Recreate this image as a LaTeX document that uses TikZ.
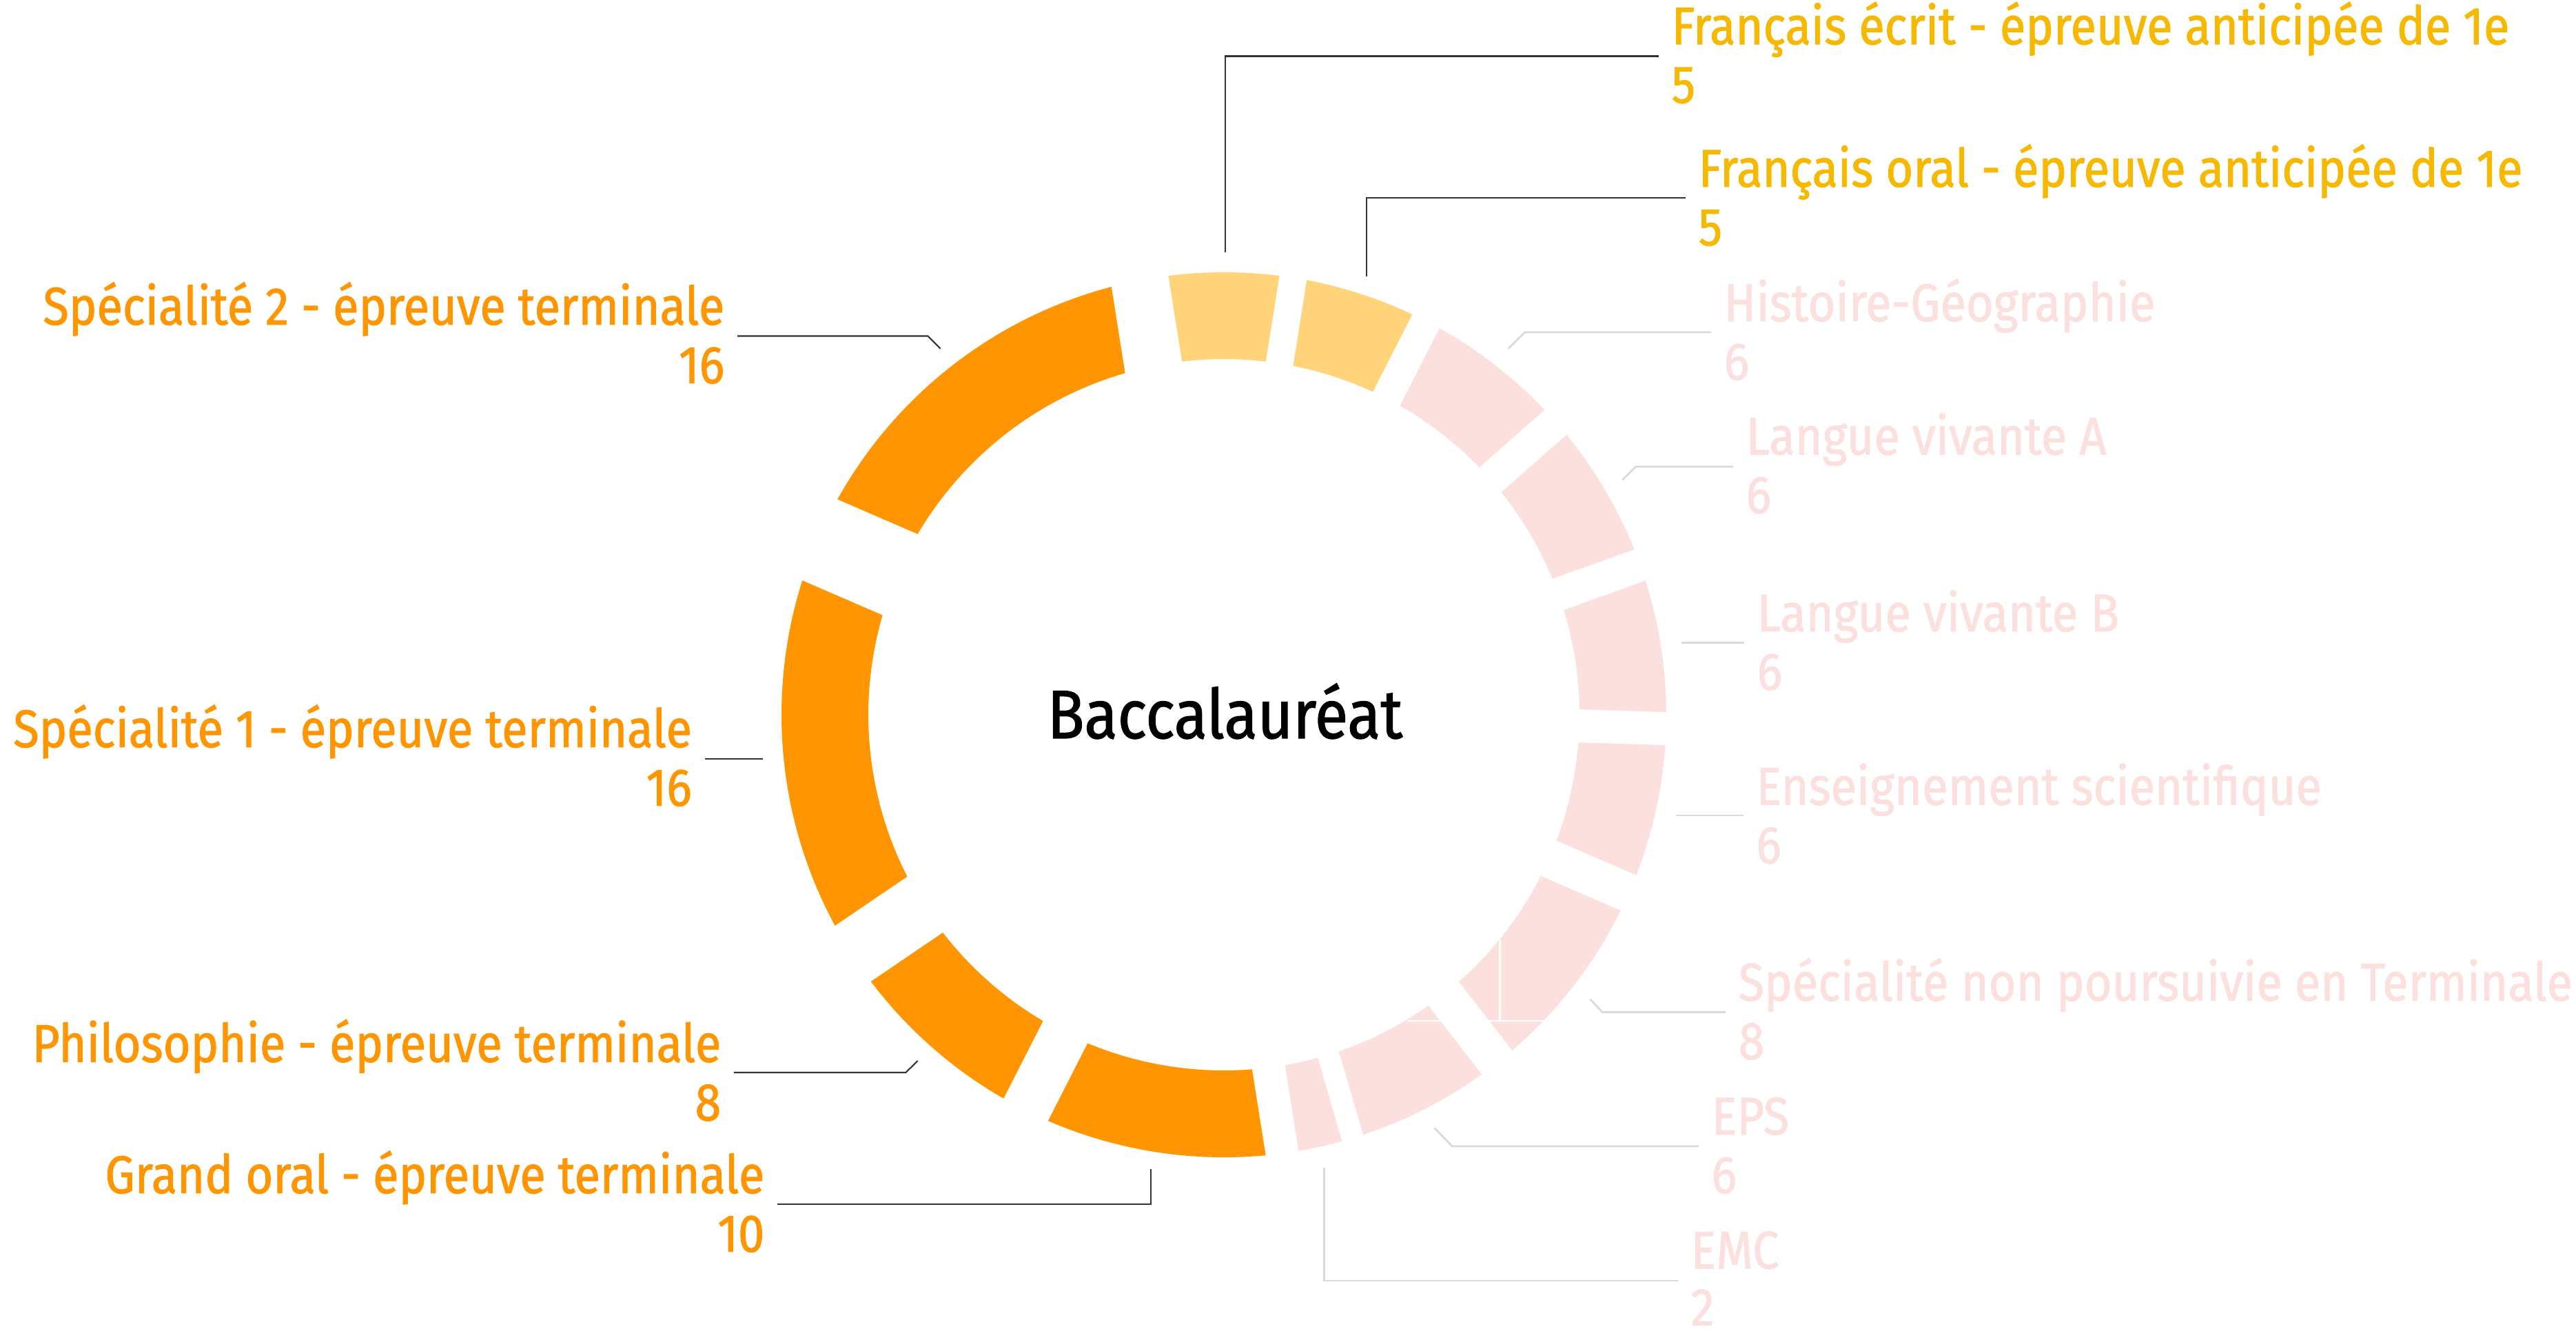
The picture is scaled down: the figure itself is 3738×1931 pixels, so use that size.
\documentclass[tikz,border=0pt]{standalone}
\usepackage{fontspec}
\setmainfont{Fira Sans}[FakeStretch=0.89, UprightFeatures={FakeBold=1.2}]
\definecolor{segorange}{HTML}{FF9500}
\definecolor{seggold}{HTML}{FFD47A}
\definecolor{segpink}{HTML}{FBE0DD}
\definecolor{txtorange}{HTML}{FF9500}
\definecolor{txtgold}{HTML}{F6B800}
\definecolor{txtpink}{HTML}{FBE0DD}
\definecolor{leadgray}{HTML}{333333}
\definecolor{leadpale}{HTML}{DADADA}
\tikzset{
  lbl/.style={font=\fontsize{21.9}{24}\selectfont, inner xsep=0.18cm, inner ysep=0pt},
  leaddark/.style={draw=leadgray, line width=0.6pt},
  leadlight/.style={draw=leadpale, line width=0.8pt},
  gap/.style={fill=white},
}
\begin{document}
\begin{tikzpicture}[x=0.01cm,y=0.01cm]
    \useasboundingbox (-1776,-894) rectangle (1962,1037);
    % ring sectors
    \fill[seggold] (81:642) arc[start angle=81, end angle=99, radius=642] -- (99:516) arc[start angle=99, end angle=81, radius=516] -- cycle;
    \fill[seggold] (63:642) arc[start angle=63, end angle=81, radius=642] -- (81:516) arc[start angle=81, end angle=63, radius=516] -- cycle;
    \fill[segpink] (41.4:642) arc[start angle=41.4, end angle=63, radius=642] -- (63:516) arc[start angle=63, end angle=41.4, radius=516] -- cycle;
    \fill[segpink] (19.8:642) arc[start angle=19.8, end angle=41.4, radius=642] -- (41.4:516) arc[start angle=41.4, end angle=19.8, radius=516] -- cycle;
    \fill[segpink] (-1.8:642) arc[start angle=-1.8, end angle=19.8, radius=642] -- (19.8:516) arc[start angle=19.8, end angle=-1.8, radius=516] -- cycle;
    \fill[segpink] (-23.4:642) arc[start angle=-23.4, end angle=-1.8, radius=642] -- (-1.8:516) arc[start angle=-1.8, end angle=-23.4, radius=516] -- cycle;
    \fill[segpink] (-52.2:642) arc[start angle=-52.2, end angle=-23.4, radius=642] -- (-23.4:516) arc[start angle=-23.4, end angle=-52.2, radius=516] -- cycle;
    \fill[segpink] (-73.8:642) arc[start angle=-73.8, end angle=-52.2, radius=642] -- (-52.2:516) arc[start angle=-52.2, end angle=-73.8, radius=516] -- cycle;
    \fill[segpink] (-81:642) arc[start angle=-81, end angle=-73.8, radius=642] -- (-73.8:516) arc[start angle=-73.8, end angle=-81, radius=516] -- cycle;
    \fill[segorange] (-117:642) arc[start angle=-117, end angle=-81, radius=642] -- (-81:516) arc[start angle=-81, end angle=-117, radius=516] -- cycle;
    \fill[segorange] (-145.8:642) arc[start angle=-145.8, end angle=-117, radius=642] -- (-117:516) arc[start angle=-117, end angle=-145.8, radius=516] -- cycle;
    \fill[segorange] (-203.4:642) arc[start angle=-203.4, end angle=-145.8, radius=642] -- (-145.8:516) arc[start angle=-145.8, end angle=-203.4, radius=516] -- cycle;
    \fill[segorange] (99:642) arc[start angle=99, end angle=156.6, radius=642] -- (156.6:516) arc[start angle=156.6, end angle=99, radius=516] -- cycle;
    % gaps between sectors
    \fill[gap, rotate=99] (480,64) -- (680,64) -- (680,-20) -- (480,-20) -- cycle;
    \fill[gap, rotate=81] (480,20) -- (680,20) -- (680,-20) -- (480,-20) -- cycle;
    \fill[gap, rotate=63] (480,20) -- (680,20) -- (680,-24) -- (480,-24) -- cycle;
    \fill[gap, rotate=41.4] (480,24) -- (680,24) -- (680,-24) -- (480,-24) -- cycle;
    \fill[gap, rotate=19.8] (480,24) -- (680,24) -- (680,-24) -- (480,-24) -- cycle;
    \fill[gap, rotate=-1.8] (480,24) -- (680,24) -- (680,-24) -- (480,-24) -- cycle;
    \fill[gap, rotate=-23.4] (480,24) -- (680,24) -- (680,-32) -- (480,-32) -- cycle;
    \fill[gap, rotate=-52.2] (480,32) -- (680,32) -- (680,-24) -- (480,-24) -- cycle;
    \fill[gap, rotate=-73.8] (480,24) -- (680,24) -- (680,-8) -- (480,-8) -- cycle;
    \fill[gap, rotate=-81] (480,8) -- (680,8) -- (680,-40) -- (480,-40) -- cycle;
    \fill[gap, rotate=-117] (480,40) -- (680,40) -- (680,-32) -- (480,-32) -- cycle;
    \fill[gap, rotate=-145.8] (480,32) -- (680,32) -- (680,-64) -- (480,-64) -- cycle;
    \fill[gap, rotate=156.6] (480,64) -- (680,64) -- (680,-64) -- (480,-64) -- cycle;
    \draw[white, line width=0.8pt] (265.7,-444) -- (464.5,-444);
    \draw[white, line width=0.8pt] (400.5,-325.6) -- (400.5,-444);
    % centre
    \node[font=\fontsize{28.3}{30}\selectfont, anchor=base] (bac) at (1.5,-34) {Baccalauréat};
    % labels
    \node[lbl, text=txtgold, anchor=base west] (fe) at (631,972.7) {Français écrit - épreuve anticipée de 1e};
    \node[lbl, text=txtgold, anchor=base west] (fev) at (631,887.7) {5};
    \node[lbl, text=txtgold, anchor=base west] (fo) at (670,766) {Français oral - épreuve anticipée de 1e};
    \node[lbl, text=txtgold, anchor=base west] (fov) at (670,681) {5};
    \node[lbl, text=txtpink, anchor=base west] (hg) at (707,571) {Histoire-Géographie};
    \node[lbl, text=txtpink, anchor=base west] (hgv) at (707,486) {6};
    \node[lbl, text=txtpink, anchor=base west] (lva) at (739,377.6) {Langue vivante A};
    \node[lbl, text=txtpink, anchor=base west] (lvav) at (739,292.6) {6};
    \node[lbl, text=txtpink, anchor=base west] (lvb) at (755,121) {Langue vivante B};
    \node[lbl, text=txtpink, anchor=base west] (lvbv) at (755,36) {6};
    \node[lbl, text=txtpink, anchor=base west] (es) at (753.7,-130.4) {Enseignement scientifique};
    \node[lbl, text=txtpink, anchor=base west] (esv) at (753.7,-215.4) {6};
    \node[lbl, text=txtpink, anchor=base west] (snp) at (728,-414.7) {Spécialité non poursuivie en Terminale};
    \node[lbl, text=txtpink, anchor=base west] (snpv) at (728,-499.7) {8};
    \node[lbl, text=txtpink, anchor=base west] (eps) at (689,-609) {EPS};
    \node[lbl, text=txtpink, anchor=base west] (epsv) at (689,-694) {6};
    \node[lbl, text=txtpink, anchor=base west] (emc) at (659,-803.4) {EMC};
    \node[lbl, text=txtpink, anchor=base west] (emcv) at (659,-886) {2};
    \node[lbl, text=txtorange, anchor=base east] (go) at (-648,-694) {Grand oral - épreuve terminale};
    \node[lbl, text=txtorange, anchor=base east] (gov) at (-648,-779) {10};
    \node[lbl, text=txtorange, anchor=base east] (philo) at (-711,-503.6) {Philosophie - épreuve terminale};
    \node[lbl, text=txtorange, anchor=base east] (philov) at (-711,-588.6) {8};
    \node[lbl, text=txtorange, anchor=base east] (spe1) at (-753.4,-47) {Spécialité 1 - épreuve terminale};
    \node[lbl, text=txtorange, anchor=base east] (spe1v) at (-753.4,-132) {16};
    \node[lbl, text=txtorange, anchor=base east] (spe2) at (-706,566) {Spécialité 2 - épreuve terminale};
    \node[lbl, text=txtorange, anchor=base east] (spe2v) at (-706,481) {16};
    % leader lines
    \coordinate (fes) at (1.7,671.2);
    \coordinate (fec) at (1.7,955.5);
    \coordinate (fos) at (207.1,635.8);
    \coordinate (foc) at (207.1,750);
    \coordinate (hgs) at (412.6,531.2);
    \coordinate (hgc) at (436.9,555);
    \coordinate (lvas) at (578.4,341);
    \coordinate (lvac) at (597.8,360);
    \coordinate (lvbs) at (664,104.5);
    \coordinate (ess) at (656.3,-146);
    \coordinate (snps) at (531.4,-412.6);
    \coordinate (snpc) at (549.3,-431.5);
    \coordinate (epss) at (305.5,-599.3);
    \coordinate (epsc) at (331.2,-626);
    \coordinate (emcs) at (145.5,-657.3);
    \coordinate (emcc) at (145.5,-821);
    \coordinate (gos) at (-105.7,-659.4);
    \coordinate (goc) at (-105.7,-709.6);
    \coordinate (philos) at (-444.3,-502);
    \coordinate (philoc) at (-461.6,-519);
    \coordinate (spe1s) at (-669.3,-64);
    \coordinate (spe2s) at (-411.3,531.2);
    \coordinate (spe2c) at (-429.6,549.5);
    \draw[leaddark] (fes) -- (fec) -- (fec -| fe.west);
    \draw[leaddark] (fos) -- (foc) -- (foc -| fo.west);
    \draw[leadlight] (hgs) -- (hgc) -- (hgc -| hg.west);
    \draw[leadlight] (lvas) -- (lvac) -- (lvac -| lva.west);
    \draw[leadlight] (lvbs) -- (lvbs -| lvb.west);
    \draw[leadlight] (ess) -- (ess -| es.west);
    \draw[leadlight] (snps) -- (snpc) -- (snpc -| snp.west);
    \draw[leadlight] (epss) -- (epsc) -- (epsc -| eps.west);
    \draw[leadlight] (emcs) -- (emcc) -- (emcc -| emc.west);
    \draw[leaddark] (gos) -- (goc) -- (goc -| go.east);
    \draw[leaddark] (philos) -- (philoc) -- (philoc -| philo.east);
    \draw[leaddark] (spe1s) -- (spe1s -| spe1.east);
    \draw[leaddark] (spe2s) -- (spe2c) -- (spe2c -| spe2.east);
\end{tikzpicture}
\end{document}
